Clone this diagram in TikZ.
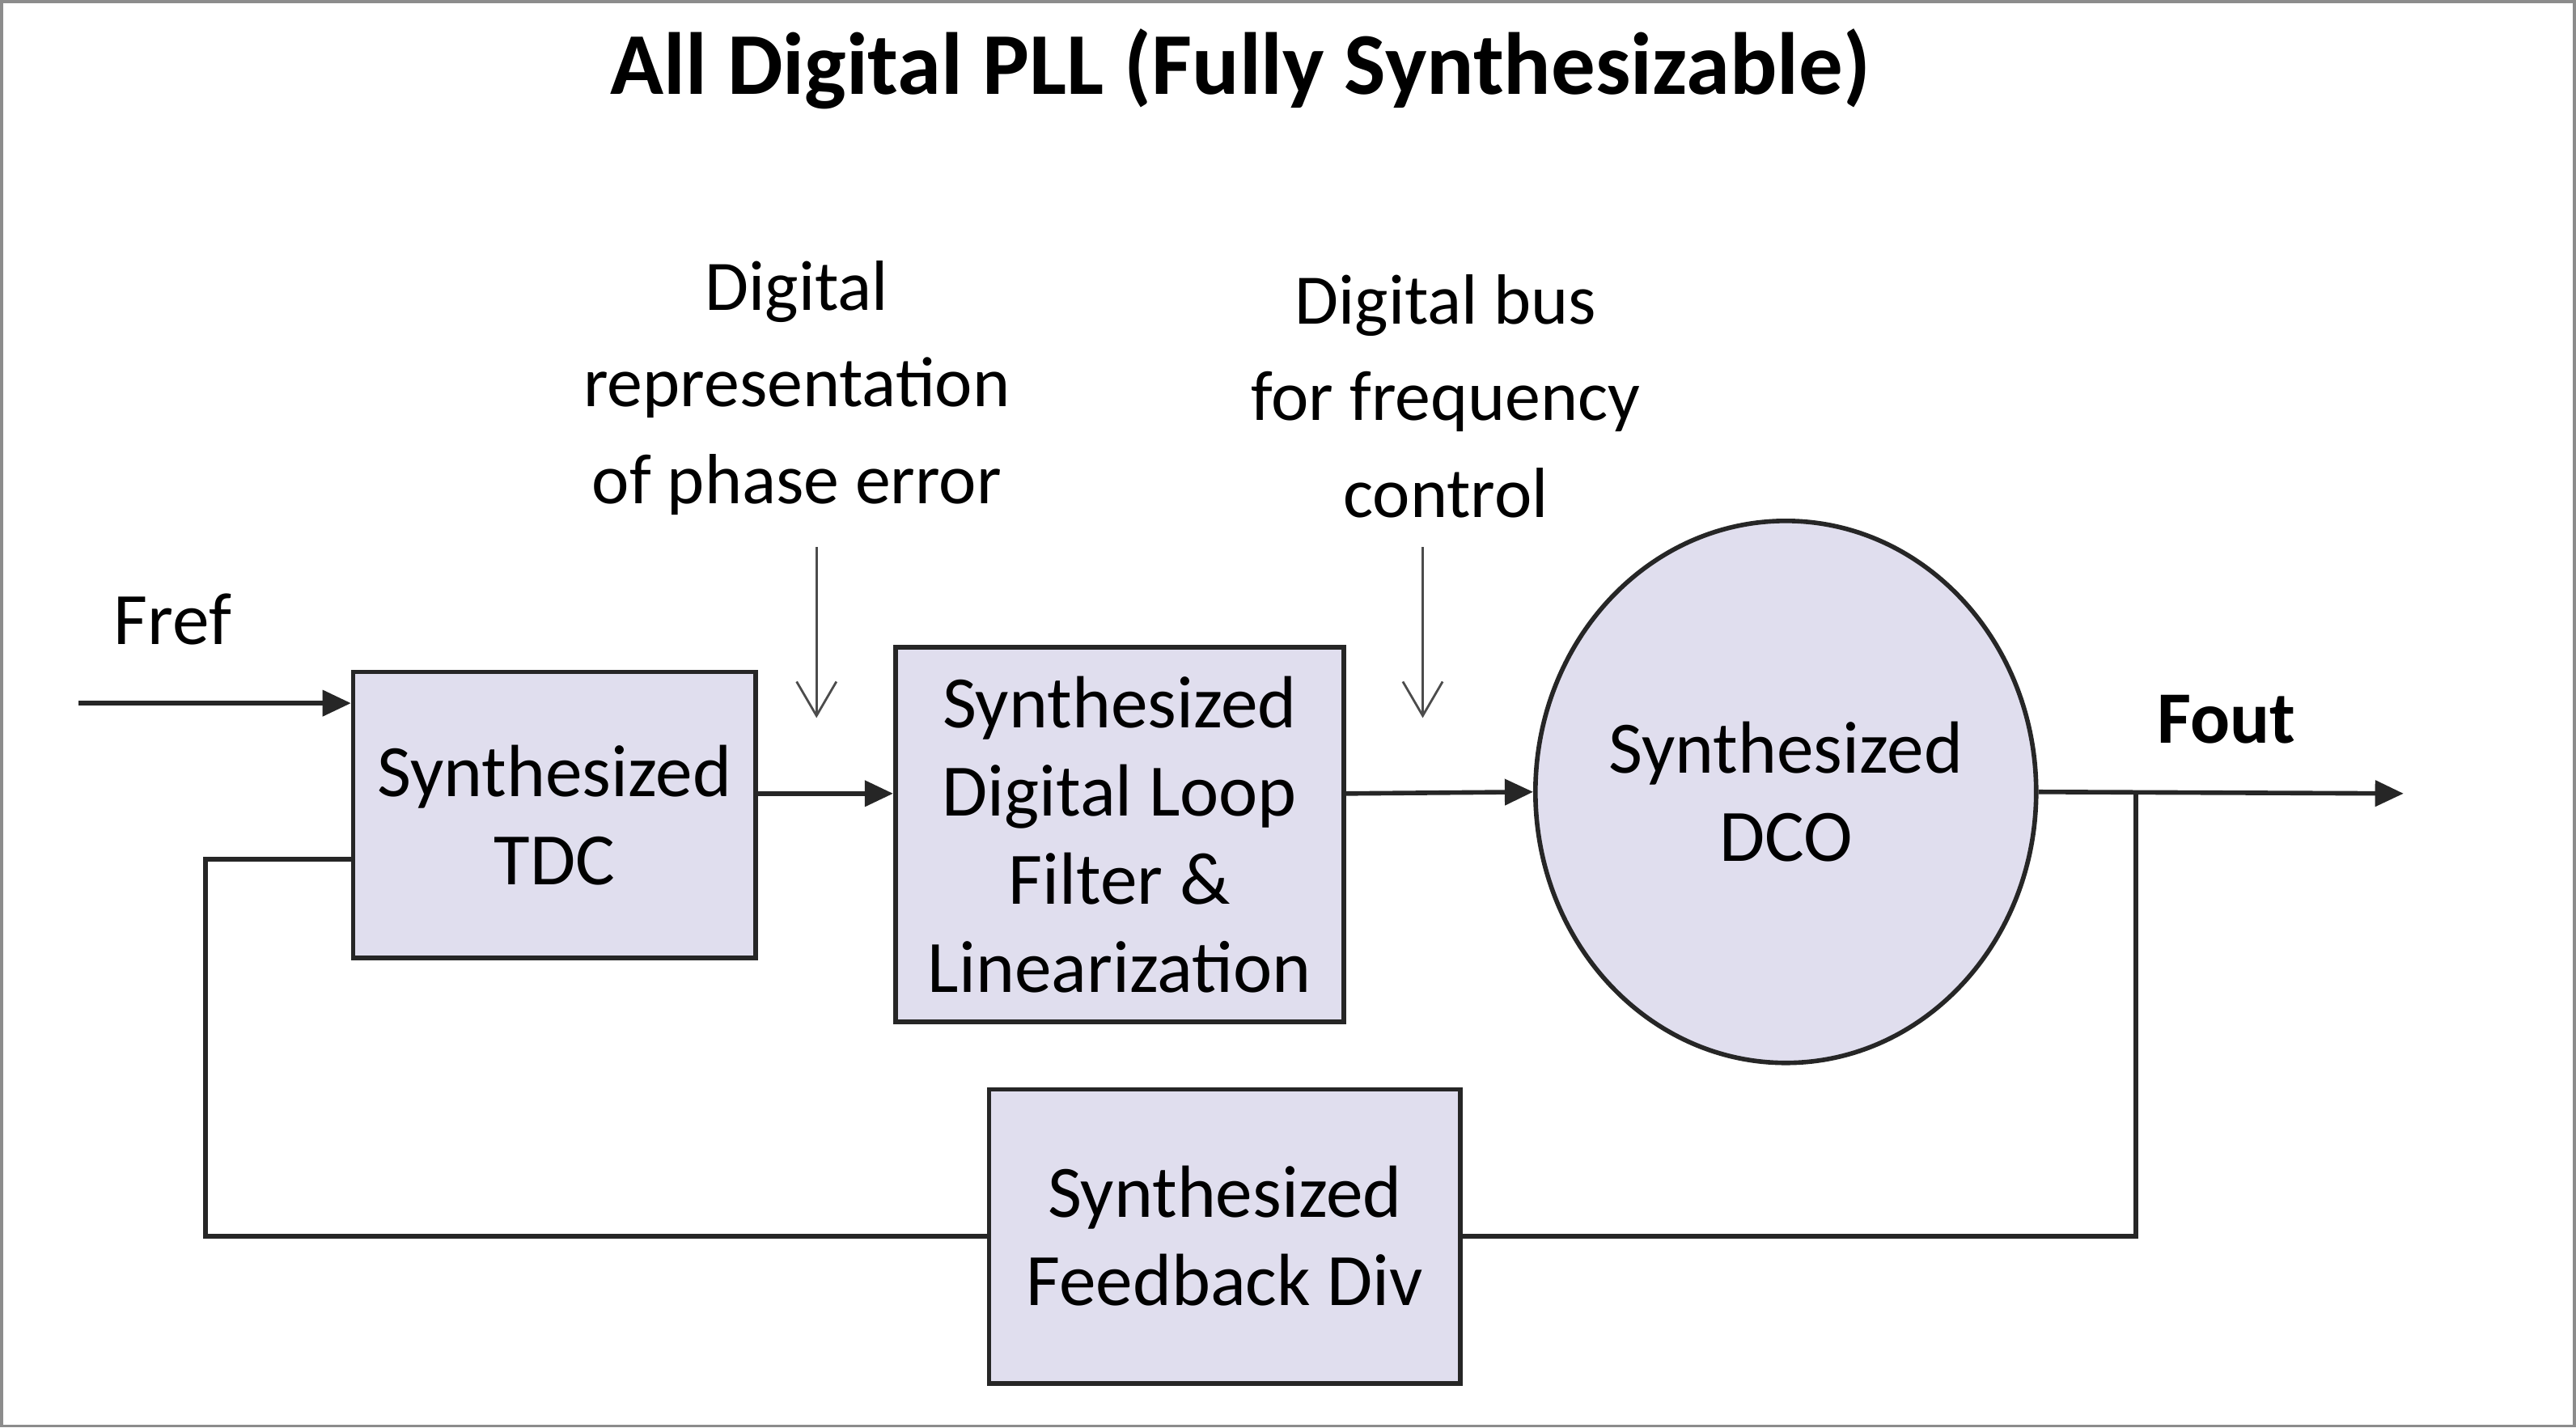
\documentclass[tikz,border=0pt]{standalone}
\usepackage{fontspec}
\setmainfont{Carlito}
\usetikzlibrary{shapes.geometric,arrows.meta}
\definecolor{boxfill}{HTML}{E0DEEE}
\begin{document}
\begin{tikzpicture}[x=0.020306cm,y=-0.020306cm,
  blk/.style={draw=black!85,line width=1.6pt,fill=boxfill,align=center,font=\fontsize{26}{31}\selectfont,inner sep=0pt},
  lbl/.style={align=center,font=\fontsize{25}{34}\selectfont},
  wire/.style={draw=black!85,line width=1.6pt},
  arr/.style={wire,-{Triangle[length=10pt,width=9pt]}},
  thin/.style={draw=black!70,line width=0.8pt,-{Straight Barb[length=12pt,width=14pt]}}]
\useasboundingbox (0,0) rectangle (1568,869);
\draw[black!45,line width=1pt] (1,1) rectangle (1567,868);
\node[font=\bfseries\fontsize{31}{36}\selectfont] (title) at (755,42) {All Digital PLL (Fully Synthesizable)};
\node[blk,minimum width=245\pgflinewidth*0+4.975cm,minimum height=3.533cm] (tdc) at (337.5,496) {Synthesized\\TDC};
\node[blk,minimum width=5.544cm,minimum height=4.63cm] (lf) at (681.5,508) {Synthesized\\Digital Loop\\Filter \&\\Linearization};
\node[blk,ellipse,minimum width=6.05cm,minimum height=6.70cm] (dco) at (1087,482) {Synthesized\\DCO};
\node[blk,minimum width=5.828cm,minimum height=3.635cm] (div) at (745.5,752.5) {Synthesized\\Feedback Div};
\node[lbl] (pe) at (485,236) {Digital\\representation\\of phase error};
\node[lbl] (fb) at (880,241) {Digital bus\\for frequency\\control};
\node[font=\fontsize{26}{31}\selectfont] (fref) at (105,377) {Fref};
\node[font=\bfseries\fontsize{26}{31}\selectfont] (fout) at (1355,438) {Fout};
\coordinate (in) at (48,428);
\coordinate (out) at (1463,483);
\coordinate (tap) at (1300,483);
\coordinate (a1) at (497,333); \coordinate (a1e) at (497,437);
\coordinate (a2) at (866,333); \coordinate (a2e) at (866,437);
\draw[arr] (in) -- (in -| tdc.west);
\draw[arr] (tdc.east |- 0,483) -- (lf.west |- 0,483);
\draw[arr] (lf.east |- 0,483) -- (dco.west);
\draw[arr] (dco.east) -- (out);
\draw[wire] (tap) |- (div.east);
\draw[wire] (div.west) -| (125,523) -- (tdc.west |- 0,523);
\draw[thin] (a1) -- (a1e);
\draw[thin] (a2) -- (a2e);
\end{tikzpicture}
\end{document}
